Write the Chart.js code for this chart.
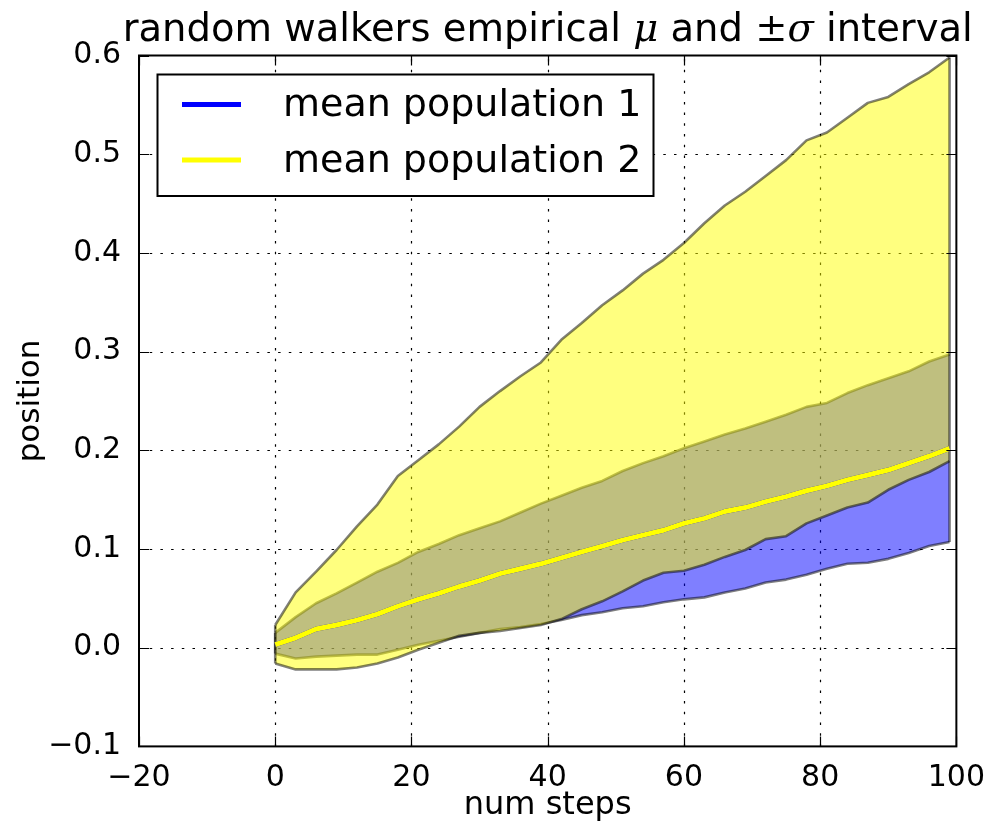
<!DOCTYPE html>
<html>
<head>
<meta charset="utf-8">
<script src="https://cdn.jsdelivr.net/npm/chart.js@4"></script>
<style>
  html, body { margin: 0; padding: 0; background: #fff; }
  canvas { display: block; }
</style>
</head>
<body>
<canvas id="walkChart" width="991" height="822"></canvas>
<script>
// step index of each sample
const steps = [0, 3, 6, 9, 12, 15, 18, 21, 24, 27, 30, 33, 36, 39, 42, 45, 48, 51, 54, 57, 60, 63, 66, 69, 72, 75, 78, 81, 84, 87, 90, 93, 96, 99];

// population 1: mu - sigma / mu + sigma
const lower1 = [-0.006, -0.011, -0.009, -0.008, -0.007, -0.007, -0.002, 0.003, 0.007, 0.011, 0.015, 0.019, 0.021, 0.024, 0.028, 0.033, 0.036, 0.040, 0.042, 0.046, 0.049, 0.051, 0.056, 0.060, 0.066, 0.069, 0.074, 0.080, 0.085, 0.086, 0.090, 0.096, 0.103, 0.107];
const upper1 = [0.015, 0.031, 0.045, 0.055, 0.066, 0.077, 0.086, 0.097, 0.105, 0.114, 0.121, 0.128, 0.137, 0.146, 0.154, 0.162, 0.169, 0.179, 0.187, 0.194, 0.202, 0.209, 0.216, 0.222, 0.229, 0.236, 0.244, 0.248, 0.258, 0.266, 0.273, 0.280, 0.290, 0.297];

// population 2: mu - sigma / mu + sigma
const lower2 = [-0.016, -0.022, -0.022, -0.022, -0.020, -0.016, -0.010, -0.002, 0.005, 0.012, 0.015, 0.017, 0.020, 0.023, 0.029, 0.039, 0.047, 0.057, 0.068, 0.076, 0.078, 0.084, 0.092, 0.099, 0.110, 0.113, 0.126, 0.134, 0.142, 0.147, 0.160, 0.170, 0.178, 0.189];
const upper2 = [0.023, 0.056, 0.077, 0.099, 0.123, 0.145, 0.174, 0.190, 0.206, 0.224, 0.244, 0.260, 0.275, 0.289, 0.312, 0.329, 0.347, 0.362, 0.379, 0.393, 0.410, 0.430, 0.448, 0.462, 0.478, 0.494, 0.514, 0.522, 0.537, 0.552, 0.558, 0.571, 0.583, 0.598];

// mean lines (the blue one sits exactly under the yellow one)
const meanPop2 = [0.003, 0.010, 0.019, 0.023, 0.028, 0.034, 0.042, 0.049, 0.055, 0.062, 0.068, 0.075, 0.080, 0.085, 0.091, 0.097, 0.103, 0.109, 0.114, 0.119, 0.126, 0.131, 0.138, 0.142, 0.148, 0.153, 0.159, 0.164, 0.170, 0.175, 0.180, 0.187, 0.194, 0.202];
const meanPop1 = meanPop2;

const xTicks = [-20, 0, 20, 40, 60, 80, 100];
const yTicks = [-0.1, 0.0, 0.1, 0.2, 0.3, 0.4, 0.5, 0.6];
const legendLabels = ['mean population 1', 'mean population 2'];

const FONT = "'DejaVu Sans', sans-serif";
const EDGE = 'rgba(0,0,0,0.5)';

function pts(ys) {
    return steps.map((t, i) => ({ x: t, y: ys[i] }));
}
function endEdge(a, b, i) {
    return [{ x: steps[i], y: a[i] }, { x: steps[i], y: b[i] }];
}
const last = steps.length - 1;

function band(data, order, fill, color) {
    return {
        data: data,
        order: order,
        fill: fill,
        backgroundColor: color,
        borderColor: EDGE,
        borderWidth: 2.6,
        pointRadius: 0,
        tension: 0,
        borderJoinStyle: 'round'
    };
}

const minus = (s) => s.replace('-', '\u2212');

// dotted grid under the data
const gridPlugin = {
    id: 'gridPlugin',
    beforeDatasetsDraw(chart) {
        const { ctx, chartArea: a, scales: { x, y } } = chart;
        ctx.save();
        ctx.strokeStyle = '#000';
        ctx.lineWidth = 1.2;
        ctx.setLineDash([2.5, 8.2]);
        xTicks.slice(1, -1).forEach(v => {
            const px = Math.round(x.getPixelForValue(v)) + 0.5;
            ctx.beginPath(); ctx.moveTo(px, a.bottom); ctx.lineTo(px, a.top); ctx.stroke();
        });
        yTicks.slice(1, -1).forEach(v => {
            const py = Math.round(y.getPixelForValue(v)) + 0.5;
            ctx.beginPath(); ctx.moveTo(a.left, py); ctx.lineTo(a.right, py); ctx.stroke();
        });
        ctx.restore();
    }
};

// spines, inward ticks, title and legend
const framePlugin = {
    id: 'framePlugin',
    afterDraw(chart) {
        const { ctx, chartArea: a, scales: { x, y } } = chart;
        ctx.save();
        ctx.strokeStyle = '#000';
        ctx.lineWidth = 1.2;
        const tl = 10;
        xTicks.forEach(v => {
            const px = Math.round(x.getPixelForValue(v)) + 0.5;
            ctx.beginPath();
            ctx.moveTo(px, a.bottom); ctx.lineTo(px, a.bottom - tl);
            ctx.moveTo(px, a.top); ctx.lineTo(px, a.top + tl);
            ctx.stroke();
        });
        yTicks.forEach(v => {
            const py = Math.round(y.getPixelForValue(v)) + 0.5;
            ctx.beginPath();
            ctx.moveTo(a.left, py); ctx.lineTo(a.left + tl, py);
            ctx.moveTo(a.right, py); ctx.lineTo(a.right - tl, py);
            ctx.stroke();
        });
        ctx.lineWidth = 2;
        ctx.strokeRect(a.left, a.top, a.right - a.left, a.bottom - a.top);

        // title with math symbols
        const size = 38.5;
        const parts = [
            ['random walkers empirical ', size + 'px ' + FONT],
            ['\u03bc', 'italic ' + size + 'px \'DejaVu Serif\', serif'],
            [' and ', size + 'px ' + FONT],
            ['\u00b1\u03c3', 'italic ' + size + 'px \'DejaVu Serif\', serif'],
            [' interval', size + 'px ' + FONT]
        ];
        let total = 0;
        parts.forEach(p => { ctx.font = p[1]; total += ctx.measureText(p[0]).width; });
        let tx = (a.left + a.right) / 2 - total / 2;
        ctx.fillStyle = '#000';
        ctx.textBaseline = 'alphabetic';
        ctx.textAlign = 'left';
        parts.forEach(p => {
            ctx.font = p[1];
            ctx.fillText(p[0], tx, 41);
            tx += ctx.measureText(p[0]).width;
        });

        // legend
        const box = { x: 157.5, y: 74.5, w: 496, h: 121.5 };
        ctx.fillStyle = '#fff';
        ctx.fillRect(box.x, box.y, box.w, box.h);
        ctx.lineWidth = 2;
        ctx.strokeStyle = '#000';
        ctx.strokeRect(box.x, box.y, box.w, box.h);
        const rows = [104.5, 160];
        const colors = [chart.data.datasets[6].borderColor, chart.data.datasets[7].borderColor];
        ctx.font = '38px ' + FONT;
        ctx.textBaseline = 'middle';
        rows.forEach((ry, i) => {
            ctx.strokeStyle = colors[i];
            ctx.lineWidth = 5;
            ctx.beginPath(); ctx.moveTo(182, ry); ctx.lineTo(241, ry); ctx.stroke();
            ctx.fillStyle = '#000';
            ctx.fillText(legendLabels[i], 283, ry + 2);
        });
        ctx.restore();
    }
};

new Chart(document.getElementById('walkChart'), {
    type: 'line',
    data: {
        datasets: [
            band(pts(lower1), 10, '+1', 'rgba(0,0,255,0.5)'),
            band(pts(upper1), 9, false, 'transparent'),
            band(endEdge(lower1, upper1, 0), 8, false, 'transparent'),
            band(pts(lower2), 7, '+1', 'rgba(255,255,0,0.5)'),
            band(pts(upper2), 6, false, 'transparent'),
            band(endEdge(lower2, upper2, 0), 5, false, 'transparent'),
            {
                label: legendLabels[0],
                data: pts(meanPop1),
                order: 2,
                borderColor: '#0000ff',
                borderWidth: 5,
                pointRadius: 0,
                fill: false,
                borderJoinStyle: 'round'
            },
            {
                label: legendLabels[1],
                data: pts(meanPop2),
                order: 1,
                borderColor: '#ffff00',
                borderWidth: 5,
                pointRadius: 0,
                fill: false,
                borderJoinStyle: 'round'
            },
            band(endEdge(lower1, upper2, last), 4, false, 'transparent')
        ]
    },
    options: {
        responsive: false,
        animation: false,
        devicePixelRatio: 1,
        layout: { padding: { top: 55.5, right: 31, left: 0, bottom: 0 } },
        plugins: {
            legend: { display: false },
            tooltip: { enabled: false }
        },
        scales: {
            x: {
                type: 'linear',
                min: -20,
                max: 100,
                afterFit(scale) { scale.height = 75.6; },
                afterBuildTicks(scale) { scale.ticks = xTicks.map(v => ({ value: v })); },
                ticks: {
                    color: '#000',
                    font: { family: FONT, size: 30 },
                    padding: 6,
                    maxRotation: 0,
                    callback: v => minus(String(v))
                },
                grid: { display: false },
                border: { display: false },
                title: {
                    display: true,
                    text: 'num steps',
                    color: '#000',
                    font: { family: FONT, size: 32 },
                    padding: { top: 0, bottom: -3 }
                }
            },
            y: {
                type: 'linear',
                min: -0.1,
                max: 0.6,
                afterFit(scale) { scale.width = 139; },
                afterBuildTicks(scale) { scale.ticks = yTicks.map(v => ({ value: v })); },
                ticks: {
                    color: '#000',
                    font: { family: FONT, size: 30 },
                    padding: 10,
                    callback: v => minus(v.toFixed(1))
                },
                grid: { display: false },
                border: { display: false },
                title: {
                    display: true,
                    text: 'position',
                    color: '#000',
                    font: { family: FONT, size: 31 },
                    padding: { top: 12, bottom: 0 }
                }
            }
        }
    },
    plugins: [gridPlugin, framePlugin]
});
</script>
</body>
</html>
